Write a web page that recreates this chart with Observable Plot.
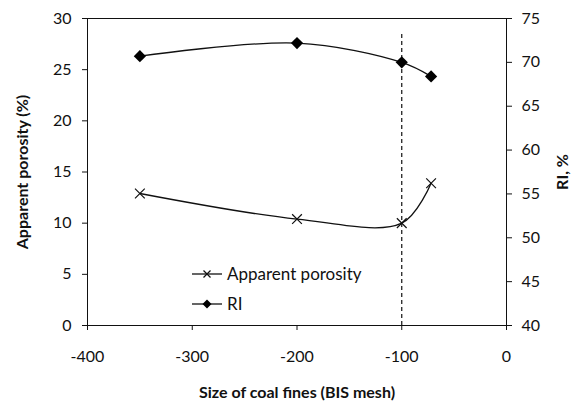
<!DOCTYPE html>
<html><head><meta charset="utf-8">
<script src="https://cdn.jsdelivr.net/npm/d3@7"></script>
<script src="https://cdn.jsdelivr.net/npm/@observablehq/plot@0.6"></script>
<style>
body{margin:0;background:#fff;}
#wrap{position:relative;width:575px;height:402px;font-family:Lato,"Open Sans",sans-serif;}
#legend{position:absolute;left:192px;top:259px;font-size:17px;color:#111;line-height:30px;}
#legend div{display:flex;align-items:center;height:30px;}
#legend svg{margin-right:5px;}
</style></head>
<body><div id="wrap"><div id="chart"></div><div id="legend"></div></div>
<script>
const sizes = [-350, -200, -100, -72];
const porosity = [12.9, 10.4, 10.0, 13.9];
const ri = [70.7, 72.2, 70.0, 68.4];
const xTicks = [-400, -300, -200, -100, 0];
const yTicks = [0, 5, 10, 15, 20, 25, 30];
const riTicks = [40, 45, 50, 55, 60, 65, 70, 75];
const seriesNames = ["Apparent porosity", "RI"];
const xTitle = "Size of coal fines (BIS mesh)";
const yTitle = "Apparent porosity (%)";
const y2Title = "RI, %";
const cutoff = -100;
const cutoffTop = 28.7;

const toLeft = v => (v - 40) * 30 / 35;
const porData = sizes.map((s, i) => ({x: s, y: porosity[i]}));
const riData = sizes.map((s, i) => ({x: s, y: toLeft(ri[i])}));

const chart = Plot.plot({
  width: 575, height: 402,
  marginLeft: 87, marginRight: 69, marginTop: 18, marginBottom: 77,
  style: {fontFamily: "Lato, 'Open Sans', sans-serif", fontSize: "16px", color: "#111"},
  x: {domain: [-400, 0]},
  y: {domain: [0, 30]},
  marks: [
    Plot.frame({stroke: "#111"}),
    Plot.axisX(xTicks, {tickSize: 5, tickPadding: 20, tickFormat: d => String(d), label: null, fontSize: 16}),
    Plot.axisY(yTicks, {anchor: "left", tickSize: 5, tickPadding: 11, label: null, fontSize: 16}),
    Plot.axisY(riTicks.map(toLeft), {anchor: "right", tickSize: 5, tickPadding: 10, tickFormat: (d, i) => riTicks[i], label: null, fontSize: 16}),
    Plot.text([xTitle], {frameAnchor: "bottom", dy: 72, fontWeight: "bold", fontSize: 16, fill: "#111"}),
    Plot.text([yTitle], {frameAnchor: "left", dx: -65, rotate: -90, textAnchor: "middle", lineAnchor: "middle", fontWeight: "bold", fontSize: 16, fill: "#111"}),
    Plot.text([y2Title], {frameAnchor: "right", dx: 56, rotate: -90, textAnchor: "middle", lineAnchor: "middle", fontWeight: "bold", fontSize: 16, fill: "#111"}),
    Plot.ruleX([cutoff], {y1: 0, y2: cutoffTop, stroke: "#111", strokeDasharray: "4,3", strokeWidth: 1.2}),
    Plot.line(porData, {x: "x", y: "y", curve: "catmull-rom", stroke: "#111", strokeWidth: 1.3}),
    Plot.line(riData, {x: "x", y: "y", curve: "catmull-rom", stroke: "#111", strokeWidth: 1.3}),
    Plot.dot(porData, {x: "x", y: "y", symbol: "times", r: 4.5, stroke: "#111", strokeWidth: 1.2}),
    Plot.dot(riData, {x: "x", y: "y", symbol: "diamond2", r: 5.5, fill: "#000", stroke: "none"})
  ]
});
document.getElementById("chart").appendChild(chart);

const sym = [
  '<line x1="8.5" y1="-3.5" x2="15.5" y2="3.5" stroke="#111" stroke-width="1.2"/><line x1="8.5" y1="3.5" x2="15.5" y2="-3.5" stroke="#111" stroke-width="1.2"/>',
  '<path d="M12,-4.5L16.5,0L12,4.5L7.5,0Z" fill="#000"/>'
];
const leg = document.getElementById("legend");
seriesNames.forEach((n, i) => {
  const d = document.createElement("div");
  d.innerHTML = `<svg width="30" height="12" viewBox="-3 -6 30 12" overflow="visible"><line x1="-3" y1="0" x2="27" y2="0" stroke="#111" stroke-width="1.3"/>${sym[i]}</svg><span>${n}</span>`;
  leg.appendChild(d);
});
</script></body></html>
